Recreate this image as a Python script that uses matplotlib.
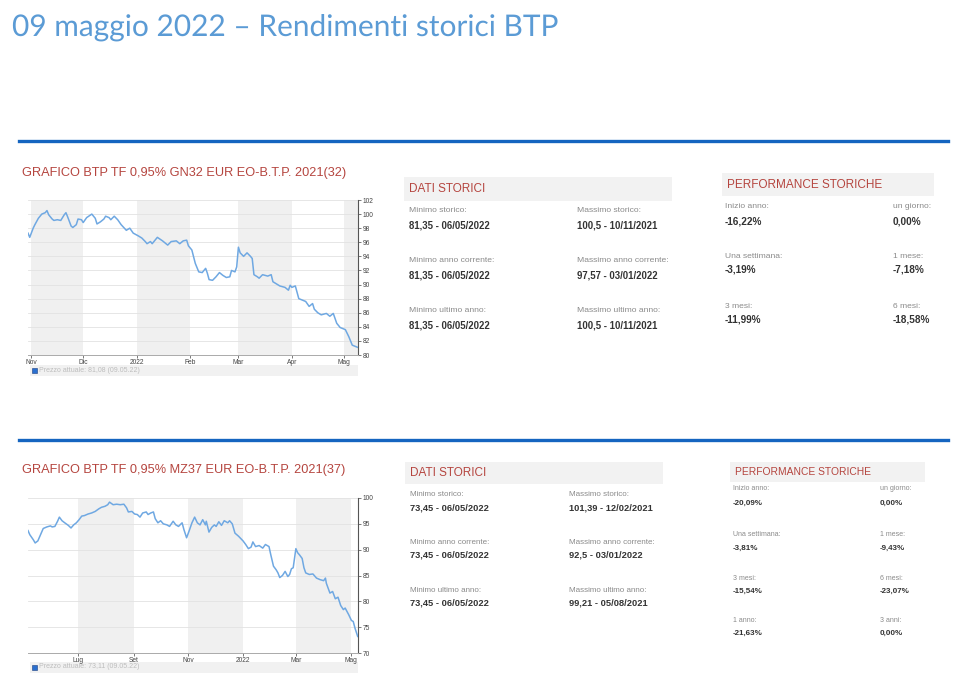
import matplotlib
matplotlib.use("Agg")
import matplotlib.pyplot as plt
import matplotlib.patheffects as pe
from matplotlib.patches import Rectangle
import pandas as pd

# --- dati grafico 1: BTP TF 0,95% GN32 ---
gn32_dates = [
    "2021-10-30", "2021-10-31", "2021-11-02", "2021-11-03", "2021-11-05", "2021-11-07",
    "2021-11-09", "2021-11-10", "2021-11-11", "2021-11-13", "2021-11-14", "2021-11-16",
    "2021-11-18", "2021-11-20", "2021-11-21", "2021-11-22", "2021-11-24", "2021-11-25",
    "2021-11-27", "2021-11-28", "2021-11-30", "2021-12-01", "2021-12-03", "2021-12-06",
    "2021-12-08", "2021-12-09", "2021-12-11", "2021-12-13", "2021-12-14", "2021-12-16",
    "2021-12-17", "2021-12-19", "2021-12-21", "2021-12-23", "2021-12-26", "2021-12-28",
    "2021-12-30", "2022-01-02", "2022-01-04", "2022-01-06", "2022-01-07", "2022-01-09",
    "2022-01-10", "2022-01-13", "2022-01-16", "2022-01-19", "2022-01-21", "2022-01-24",
    "2022-01-26", "2022-01-28", "2022-01-30", "2022-01-31", "2022-02-02", "2022-02-04",
    "2022-02-06", "2022-02-08", "2022-02-10", "2022-02-11", "2022-02-12", "2022-02-14",
    "2022-02-16", "2022-02-18", "2022-02-20", "2022-02-22", "2022-02-24", "2022-02-25",
    "2022-02-27", "2022-02-28", "2022-03-01", "2022-03-02", "2022-03-04", "2022-03-06",
    "2022-03-08", "2022-03-09", "2022-03-10", "2022-03-12", "2022-03-13", "2022-03-15",
    "2022-03-18", "2022-03-20", "2022-03-21", "2022-03-23", "2022-03-25", "2022-03-28",
    "2022-03-30", "2022-03-31", "2022-04-01", "2022-04-03", "2022-04-05", "2022-04-09",
    "2022-04-11", "2022-04-13", "2022-04-14", "2022-04-16", "2022-04-18", "2022-04-21",
    "2022-04-23", "2022-04-25", "2022-04-27", "2022-04-29", "2022-05-02", "2022-05-04",
    "2022-05-06", "2022-05-09",
]
gn32_prices = [
    97.3, 96.7, 98.0, 98.5, 99.4, 100.0,
    100.2, 100.5, 99.9, 99.3, 99.1, 99.2,
    99.1, 99.9, 100.2, 99.6, 98.3, 98.1,
    98.5, 99.3, 99.2, 98.8, 99.5, 100.0,
    99.4, 98.6, 98.9, 99.3, 99.7, 99.5,
    99.2, 99.7, 99.2, 98.5, 97.7, 98.0,
    97.3, 96.9, 96.6, 96.1, 95.8, 96.1,
    95.8, 96.7, 96.2, 95.6, 96.1, 96.2,
    95.8, 96.2, 96.3, 95.5, 94.9, 93.0,
    91.8, 91.7, 92.3, 91.6, 90.7, 90.6,
    91.1, 91.7, 91.3, 91.0, 91.1, 92.0,
    91.8, 92.5, 95.3, 94.5, 94.0, 94.5,
    94.0, 93.7, 91.4, 91.1, 90.9, 91.4,
    91.2, 91.4, 90.4, 90.1, 89.8, 89.6,
    89.2, 89.9, 89.6, 89.8, 88.0, 87.6,
    86.9, 87.3, 86.5, 86.0, 85.7, 85.9,
    85.5, 85.9, 84.5, 83.9, 83.6, 82.6,
    81.4, 81.1,
]
gn32_tick_dates = ["2021-11-01", "2021-12-01", "2022-01-01", "2022-02-01",
                   "2022-03-01", "2022-04-01", "2022-05-01"]
gn32_tick_labels = ["Nov", "Dic", "2022", "Feb", "Mar", "Apr", "Mag"]
gn32_yticks = list(range(80, 103, 2))

# --- dati grafico 2: BTP TF 0,95% MZ37 ---
mz37_dates = [
    "2021-05-06", "2021-05-08", "2021-05-12", "2021-05-14", "2021-05-17", "2021-05-20",
    "2021-05-23", "2021-05-27", "2021-05-31", "2021-06-02", "2021-06-05", "2021-06-08",
    "2021-06-10", "2021-06-13", "2021-06-16", "2021-06-20", "2021-06-23", "2021-06-26",
    "2021-06-29", "2021-07-02", "2021-07-05", "2021-07-08", "2021-07-12", "2021-07-16",
    "2021-07-20", "2021-07-24", "2021-07-27", "2021-07-31", "2021-08-03", "2021-08-05",
    "2021-08-09", "2021-08-13", "2021-08-17", "2021-08-21", "2021-08-24", "2021-08-26",
    "2021-08-30", "2021-09-02", "2021-09-05", "2021-09-08", "2021-09-11", "2021-09-15",
    "2021-09-17", "2021-09-20", "2021-09-23", "2021-09-25", "2021-09-28", "2021-10-01",
    "2021-10-04", "2021-10-08", "2021-10-11", "2021-10-15", "2021-10-18", "2021-10-21",
    "2021-10-25", "2021-10-27", "2021-10-30", "2021-11-02", "2021-11-05", "2021-11-08",
    "2021-11-11", "2021-11-14", "2021-11-17", "2021-11-20", "2021-11-21", "2021-11-24",
    "2021-11-27", "2021-11-30", "2021-12-02", "2021-12-05", "2021-12-08", "2021-12-11",
    "2021-12-15", "2021-12-17", "2021-12-20", "2021-12-23", "2021-12-27", "2022-01-01",
    "2022-01-04", "2022-01-07", "2022-01-10", "2022-01-12", "2022-01-15", "2022-01-19",
    "2022-01-23", "2022-01-26", "2022-01-30", "2022-02-01", "2022-02-04", "2022-02-07",
    "2022-02-09", "2022-02-11", "2022-02-14", "2022-02-17", "2022-02-20", "2022-02-22",
    "2022-02-24", "2022-02-26", "2022-03-01", "2022-03-03", "2022-03-05", "2022-03-08",
    "2022-03-10", "2022-03-12", "2022-03-16", "2022-03-20", "2022-03-24", "2022-03-28",
    "2022-04-01", "2022-04-03", "2022-04-04", "2022-04-08", "2022-04-11", "2022-04-14",
    "2022-04-17", "2022-04-20", "2022-04-23", "2022-04-25", "2022-04-29", "2022-05-02",
    "2022-05-04", "2022-05-06", "2022-05-09",
]
mz37_prices = [
    93.7, 92.9, 91.9, 91.3, 91.7, 92.9,
    94.1, 94.4, 94.6, 94.4, 94.5, 95.5,
    96.3, 95.6, 95.2, 94.7, 94.2, 94.8,
    95.2, 95.8, 96.5, 96.6, 96.9, 97.1,
    97.4, 97.9, 98.2, 98.4, 98.7, 99.2,
    98.7, 98.8, 98.7, 98.8, 98.1, 97.3,
    97.4, 96.9, 96.8, 96.3, 97.1, 97.3,
    96.8, 97.1, 97.3, 96.0, 95.2, 95.6,
    95.0, 94.8, 94.5, 95.5, 94.8, 94.5,
    95.2, 93.9, 92.3, 93.7, 95.2, 96.3,
    95.2, 94.8, 95.8, 94.8, 95.5, 93.4,
    94.3, 94.8, 94.5, 95.4, 94.7, 95.6,
    95.2, 95.6, 95.0, 93.2, 92.6, 91.7,
    91.0, 90.2, 90.5, 91.5, 90.6, 90.8,
    90.3, 91.0, 90.6, 89.0, 86.8, 86.1,
    85.5, 84.6, 85.0, 85.8, 84.8, 85.2,
    86.3, 86.5, 90.2, 89.4, 89.0, 88.3,
    86.5, 85.5, 85.2, 85.3, 84.5, 84.2,
    84.0, 84.5, 83.5, 81.6, 81.9, 80.5,
    80.8, 79.2, 78.4, 78.7, 77.4, 76.3,
    76.1, 74.8, 73.2,
]
mz37_tick_dates = ["2021-07-01", "2021-09-01", "2021-11-01", "2022-01-01",
                   "2022-03-01", "2022-05-01"]
mz37_tick_labels = ["Lug", "Set", "Nov", "2022", "Mar", "Mag"]
mz37_yticks = list(range(70, 101, 5))

# --- tabelle ---
dati1_labels = ["Minimo storico:", "Massimo storico:", "Minimo anno corrente:",
                "Massimo anno corrente:", "Minimo ultimo anno:", "Massimo ultimo anno:"]
dati1_values = ["81,35 - 06/05/2022", "100,5 - 10/11/2021", "81,35 - 06/05/2022",
                "97,57 - 03/01/2022", "81,35 - 06/05/2022", "100,5 - 10/11/2021"]
dati2_labels = dati1_labels
dati2_values = ["73,45 - 06/05/2022", "101,39 - 12/02/2021", "73,45 - 06/05/2022",
                "92,5 - 03/01/2022", "73,45 - 06/05/2022", "99,21 - 05/08/2021"]
perf1_labels = ["Inizio anno:", "un giorno:", "Una settimana:", "1 mese:", "3 mesi:", "6 mesi:"]
perf1_values = ["-16,22%", "0,00%", "-3,19%", "-7,18%", "-11,99%", "-18,58%"]
perf2_labels = perf1_labels + ["1 anno:", "3 anni:"]
perf2_values = ["-20,09%", "0,00%", "-3,81%", "-9,43%", "-15,54%", "-23,07%", "-21,63%", "0,00%"]

W, H = 965, 699
RED = "#b5453f"
FONT = "Liberation Sans"


def fx(x):
    return x / W


def fy(y):
    return 1 - y / H


def draw_chart(fig, box, dates, prices, yticks, tick_dates, tick_labels, current, legend_y):
    x0, y0, x1, y1 = box
    ax = fig.add_axes([fx(x0), fy(y1), (x1 - x0) / W, (y1 - y0) / H])
    d = pd.to_datetime(dates)
    ticks = pd.to_datetime(tick_dates)
    end = d[-1] + pd.Timedelta(hours=8)
    # bande grigie alternate
    for i in range(0, len(ticks), 2):
        right = ticks[i + 1] if i + 1 < len(ticks) else end
        ax.axvspan(ticks[i], right, color="#f0f0f0", lw=0, zorder=0)
    ax.plot(d, prices, color="#6fa8e2", lw=1.1, zorder=3)
    ax.set_xlim(d[0], end)
    ax.set_ylim(yticks[0], yticks[-1])
    ax.set_yticks(yticks)
    ax.set_xticks(ticks)
    ax.set_xticklabels(tick_labels)
    ax.yaxis.tick_right()
    ax.yaxis.grid(True, color="#e2e2e2", lw=0.6, zorder=1)
    ax.set_axisbelow(True)
    for s in ["top", "left"]:
        ax.spines[s].set_visible(False)
    ax.spines["right"].set_color("#555555")
    ax.spines["right"].set_linewidth(0.8)
    ax.spines["bottom"].set_color("#aaaaaa")
    ax.spines["bottom"].set_linewidth(0.7)
    ax.tick_params(axis="both", labelsize=4.8, colors="#444444", length=2, width=0.5, pad=1.2)
    for lab in ax.get_xticklabels() + ax.get_yticklabels():
        lab.set_fontfamily(FONT)
    ax.set_facecolor("white")
    # legenda "Prezzo attuale"
    fig.patches.append(Rectangle((fx(x0 + 2), fy(legend_y + 5.5)), (x1 - x0 - 2) / W, 11 / H,
                                 transform=fig.transFigure, color="#f1f1f1", lw=0, zorder=-2))
    fig.patches.append(Rectangle((fx(x0 + 4), fy(legend_y + 2.5)), 5 / W, 5 / H,
                                 transform=fig.transFigure, facecolor="#2a6fcf",
                                 edgecolor="#1a3f80", lw=0.4, zorder=-1))
    fig.text(fx(x0 + 11), fy(legend_y), "Prezzo attuale: " + current, fontsize=5,
             color="#bdbdbd", va="center", family=FONT)
    return ax


def draw_table(fig, head, title, title_size, labels, values, cols, label_ys, value_ys,
               label_size, value_size):
    hx0, hy0, hx1, hy1 = head
    fig.patches.append(Rectangle((fx(hx0), fy(hy1)), (hx1 - hx0) / W, (hy1 - hy0) / H,
                                 transform=fig.transFigure, color="#f2f2f2", lw=0, zorder=-2))
    fig.text(fx(hx0 + 5), fy((hy0 + hy1) / 2), title, fontsize=title_size, color=RED,
             va="center", family=FONT)
    for i, (lab, val) in enumerate(zip(labels, values)):
        r, c = divmod(i, 2)
        fig.text(fx(cols[c]), fy(label_ys[r]), lab, fontsize=label_size, color="#8a8a8a",
                 va="center", family=FONT)
        fig.text(fx(cols[c]), fy(value_ys[r]), val, fontsize=value_size, color="#333333",
                 va="center", weight="bold", family=FONT)


fig = plt.figure(figsize=(W / 100, H / 100), dpi=100)
fig.patch.set_facecolor("white")

# titolo
t = fig.text(fx(12), fy(27), "09 maggio 2022 \u2013 Rendimenti storici BTP", fontsize=21.5,
             color="#5b9bd5", va="center", family="Lato")
t.set_path_effects([pe.SimpleLineShadow(offset=(1.2, -1.2), shadow_color="#a9c8ea", alpha=1),
                    pe.withStroke(linewidth=2.2, foreground="white")])

# linee separatrici blu
for yline in [140.5, 440]:
    fig.add_artist(plt.Line2D([fx(19), fx(948)], [fy(yline), fy(yline)],
                              transform=fig.transFigure, color="#1565c0", lw=2.4))

# grafico 1
fig.text(fx(22), fy(173), "GRAFICO BTP TF 0,95% GN32 EUR EO-B.T.P. 2021(32)", fontsize=9.2,
         color=RED, va="center", family=FONT)
draw_chart(fig, (28, 200, 358, 355), gn32_dates, gn32_prices, gn32_yticks,
           gn32_tick_dates, gn32_tick_labels, "81,08 (09.05.22)", 370)
draw_table(fig, (404, 177, 672, 201), "DATI STORICI", 8.5, dati1_labels, dati1_values,
           [409, 577], [210, 260, 310], [225, 275, 325], 6.1, 6.9)
draw_table(fig, (722, 173, 934, 196), "PERFORMANCE STORICHE", 8.5, perf1_labels, perf1_values,
           [725, 893], [206, 256, 306], [222, 270, 320], 6.1, 7.2)

# grafico 2
fig.text(fx(22), fy(470), "GRAFICO BTP TF 0,95% MZ37 EUR EO-B.T.P. 2021(37)", fontsize=9.2,
         color=RED, va="center", family=FONT)
draw_chart(fig, (28, 498, 358, 653), mz37_dates, mz37_prices, mz37_yticks,
           mz37_tick_dates, mz37_tick_labels, "73,11 (09.05.22)", 667)
draw_table(fig, (405, 462, 663, 484), "DATI STORICI", 8.5, dati2_labels, dati2_values,
           [410, 569], [494, 542, 590], [508, 555, 603], 5.8, 6.7)
draw_table(fig, (730, 462, 925, 482), "PERFORMANCE STORICHE", 7.4, perf2_labels, perf2_values,
           [733, 880], [489, 535, 578, 620], [503, 548, 591, 633], 5.0, 5.8)

fig.savefig("out.png", dpi=100)
